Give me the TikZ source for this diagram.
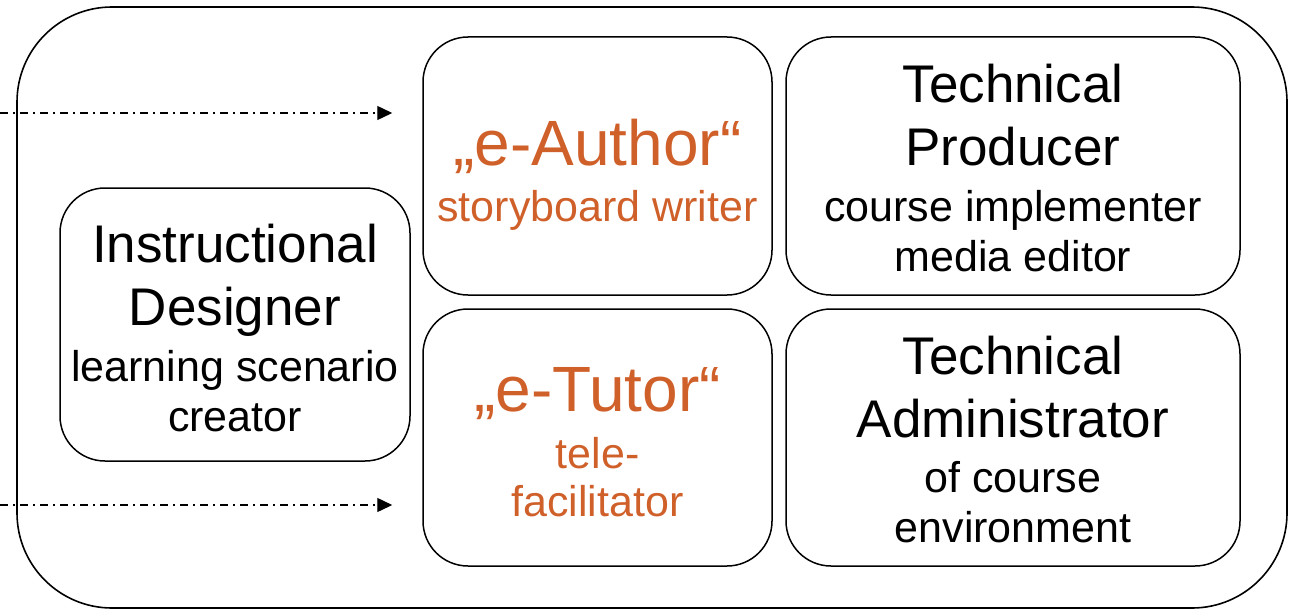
\documentclass[tikz,border=0pt]{standalone}
\usepackage{fontspec}
\setmainfont{Liberation Sans}
\usetikzlibrary{arrows.meta}
\definecolor{rust}{RGB}{208,96,42}
\newcommand{\lrg}{\fontsize{53}{63}\selectfont}
\newcommand{\sml}{\fontsize{43}{50}\selectfont}
\newcommand{\hdr}{\fontsize{64}{70}\selectfont}

\begin{document}
\begin{tikzpicture}[x=1pt,y=-1pt,
	role/.style={draw,line width=1.5pt,rounded corners=45pt,align=center,inner sep=0pt,font=\sml},
	flow/.style={line width=1.4pt,dash pattern=on 8pt off 5pt on 2pt off 5pt,-{Triangle[length=15pt,width=14pt]}}]
	\useasboundingbox (0,0) rectangle (1289,610);
	\draw[line width=1.6pt,rounded corners=95pt] (17,7) rectangle (1287,608);

	\node[role,minimum width=350pt,minimum height=273pt] (designer) at (235,324.5)
		{\lrg\rule{0pt}{45pt}Instructional\\[13pt]\lrg Designer\\[5.5pt]learning scenario\\creator};
	\node[role,minimum width=349pt,minimum height=258pt,text=rust] (author) at (597.5,166)
		{\hdr\rule{0pt}{63pt}„e-Author“\\[6pt]storyboard writer};
	\node[role,minimum width=454pt,minimum height=258pt] (producer) at (1013,166)
		{\lrg\rule{0pt}{42pt}Technical\\[13pt]\lrg Producer\\[5.5pt]course implementer\\media editor};
	\node[role,minimum width=349pt,minimum height=257pt,text=rust] (tutor) at (597.5,437.5)
		{\hdr\rule{0pt}{53.4pt}„e-Tutor“\\[6.6pt]tele-\\[-1.6pt]facilitator};
	\node[role,minimum width=454pt,minimum height=257pt] (admin) at (1013,437.5)
		{\lrg\rule{0pt}{42pt}Technical\\[13pt]\lrg Administrator\\[5.5pt]of course\\environment};

	\coordinate (in1) at (0,113);
	\coordinate (in2) at (0,505);
	\draw[flow,shorten >=30pt] (in1) -- (in1 -| author.west);
	\draw[flow,shorten >=30pt] (in2) -- (in2 -| tutor.west);
\end{tikzpicture}
\end{document}
